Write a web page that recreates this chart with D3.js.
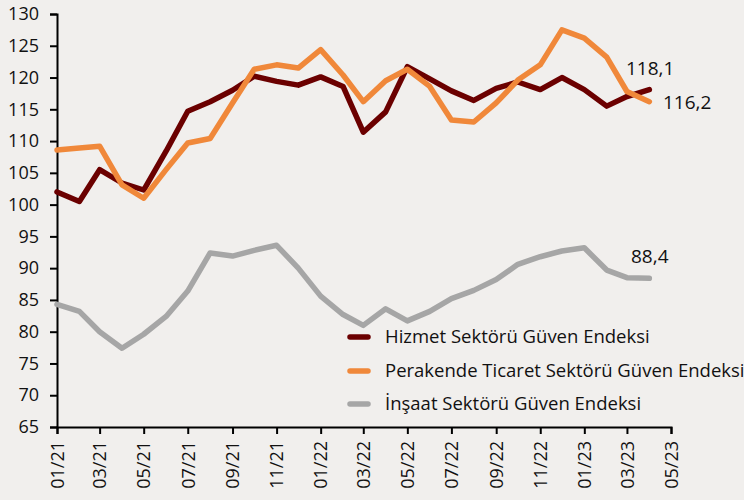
<!DOCTYPE html>
<html>
<head>
<meta charset="utf-8">
<script src="https://cdn.jsdelivr.net/npm/d3@7"></script>
<style>
  html, body { margin: 0; padding: 0; background: #f1efed; }
  svg { display: block; font-family: "Open Sans", sans-serif; }
</style>
</head>
<body>
<svg id="chart" width="744" height="500"></svg>
<script>
const months = ["2021-01","2021-02","2021-03","2021-04","2021-05","2021-06","2021-07","2021-08","2021-09","2021-10","2021-11","2021-12",
  "2022-01","2022-02","2022-03","2022-04","2022-05","2022-06","2022-07","2022-08","2022-09","2022-10","2022-11","2022-12",
  "2023-01","2023-02","2023-03","2023-04"];
const hizmet = [102.0,100.5,105.5,103.4,102.3,108.4,114.7,116.2,118.0,120.2,119.4,118.8,120.1,118.6,111.4,114.6,121.7,119.8,117.9,116.4,118.3,119.3,118.1,120.0,118.1,115.5,117.0,118.1];
const perakende = [108.6,108.9,109.2,103.1,101.0,105.5,109.7,110.4,116.0,121.3,122.0,121.5,124.4,120.4,116.2,119.5,121.3,118.6,113.3,113.0,116.0,119.6,122.0,127.5,126.2,123.2,117.8,116.2];
const insaat = [84.3,83.2,80.0,77.4,79.6,82.4,86.4,92.4,91.9,92.8,93.6,90.0,85.6,82.7,81.0,83.6,81.7,83.2,85.2,86.5,88.2,90.6,91.8,92.7,93.2,89.7,88.5,88.4];
const seriesNames = ["Hizmet Sektörü Güven Endeksi","Perakende Ticaret Sektörü Güven Endeksi","İnşaat Sektörü Güven Endeksi"];
const seriesColors = ["#6b0000","#f0883a","#a6a6a6"];
const endLabels = ["118,1","116,2","88,4"];
const yTicks = [65,70,75,80,85,90,95,100,105,110,115,120,125,130];
const xTickLabels = ["01/21","03/21","05/21","07/21","09/21","11/21","01/22","03/22","05/22","07/22","09/22","11/22","01/23","03/23","05/23"];

const parse = d3.timeParse("%Y-%m");
const dates = months.map(parse);
const series = [hizmet, perakende, insaat];

const svg = d3.select("#chart");
const x = d3.scaleTime().domain([parse("2021-01"), parse("2023-05")]).range([57, 671]);
const y = d3.scaleLinear().domain([65, 130]).range([427, 14]);

// y axis
const yAxis = svg.append("g").attr("transform", "translate(57,0)")
  .call(d3.axisLeft(y).tickValues(yTicks).tickSize(7).tickPadding(11).tickFormat(d3.format("d")));
yAxis.select(".domain").attr("stroke", "#000").attr("stroke-width", 2);
yAxis.selectAll(".tick line").attr("stroke", "#000").attr("stroke-width", 2);
yAxis.selectAll(".tick text").attr("font-size", 18).attr("fill", "#111").attr("font-family", "Open Sans, sans-serif");

// x axis
const xTickDates = xTickLabels.map(s => d3.timeParse("%m/%y")(s));
const xAxis = svg.append("g").attr("transform", "translate(0,427)")
  .call(d3.axisBottom(x).tickValues(xTickDates).tickSize(7).tickFormat(d3.timeFormat("%m/%y")));
xAxis.select(".domain").attr("stroke", "#000").attr("stroke-width", 2);
xAxis.selectAll(".tick line").attr("stroke", "#000").attr("stroke-width", 2);
xAxis.selectAll(".tick text")
  .attr("font-size", 18).attr("fill", "#111").attr("font-family", "Open Sans, sans-serif")
  .attr("transform", "rotate(-90)")
  .attr("text-anchor", "end")
  .attr("x", -14).attr("y", 0).attr("dy", "0.35em");

// lines
const line = d3.line().x((d, i) => x(dates[i])).y(d => y(d));
[2, 0, 1].forEach(k => {
  svg.append("path").datum(series[k])
    .attr("d", line)
    .attr("fill", "none")
    .attr("stroke", seriesColors[k])
    .attr("stroke-width", 5.5)
    .attr("stroke-linejoin", "round")
    .attr("stroke-linecap", "round");
});

// end labels
const labelPos = [[626, 75], [663, 109], [631, 263]];
endLabels.forEach((t, k) => {
  svg.append("text").attr("x", labelPos[k][0]).attr("y", labelPos[k][1])
    .attr("font-size", 19).attr("fill", "#111").text(t);
});

// legend
const legendY = [337, 371, 404];
seriesNames.forEach((name, k) => {
  svg.append("line").attr("x1", 350).attr("x2", 368).attr("y1", legendY[k]).attr("y2", legendY[k])
    .attr("stroke", seriesColors[k]).attr("stroke-width", 5.5).attr("stroke-linecap", "round");
  svg.append("text").attr("x", 385).attr("y", legendY[k]).attr("dy", "0.35em")
    .attr("font-size", 18.5).attr("fill", "#111").text(name);
});
</script>
</body>
</html>
